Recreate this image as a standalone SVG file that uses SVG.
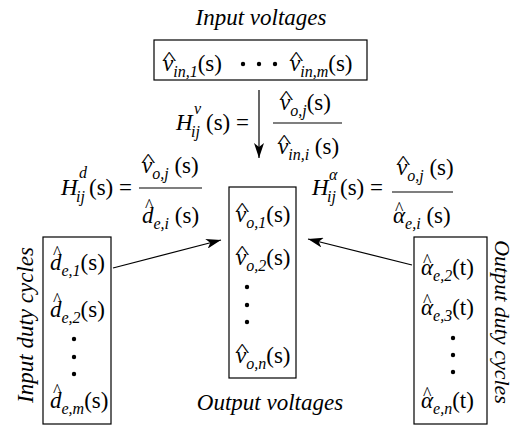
<svg xmlns="http://www.w3.org/2000/svg" width="513" height="428" viewBox="0 0 513 428" font-family="Liberation Serif, serif">
<defs>
<marker id="ah" markerUnits="userSpaceOnUse" markerWidth="16" markerHeight="10" refX="15" refY="5" orient="auto">
<path d="M0,0 L15,5 L0,10 L4,5 Z" fill="#000"/>
</marker>
</defs>

<g id="connectors" stroke="#000" stroke-width="1.2" fill="none">
<line x1="259" y1="90" x2="259" y2="158" marker-end="url(#ah)"/>
<line x1="113" y1="268" x2="221" y2="240" marker-end="url(#ah)"/>
<line x1="412" y1="265" x2="308" y2="239" marker-end="url(#ah)"/>
</g>

<g id="input-voltages" font-family="Liberation Serif, serif">
<text font-family="Liberation Serif, serif" font-size="23" x="261" y="25" text-anchor="middle"><tspan font-style="italic">Input voltages</tspan></text>
<rect x="154" y="40" width="213" height="40" fill="none" stroke="#000" stroke-width="1.2"/>
<text font-family="Liberation Serif, serif" font-size="18" transform="translate(162,65) scale(1.7,1)">^</text>
<text font-family="Liberation Serif, serif" font-size="23" x="163" y="71"><tspan font-style="italic">v</tspan><tspan font-style="italic" font-size="16" dy="6">in,1</tspan><tspan dy="-6">(s)</tspan></text>
<circle cx="243" cy="64" r="2.2"/><circle cx="259" cy="64" r="2.2"/><circle cx="275" cy="64" r="2.2"/>
<text font-family="Liberation Serif, serif" font-size="18" transform="translate(289,65) scale(1.7,1)">^</text>
<text font-family="Liberation Serif, serif" font-size="23" x="290" y="71"><tspan font-style="italic">v</tspan><tspan font-style="italic" font-size="16" dy="6">in,m</tspan><tspan dy="-6">(s)</tspan></text>
</g>

<g id="hv" font-family="Liberation Serif, serif">
<text font-family="Liberation Serif, serif" font-size="23" x="176" y="130"><tspan font-style="italic">H</tspan></text>
<text font-family="Liberation Serif, serif" font-size="16" x="194" y="114"><tspan font-style="italic">v</tspan></text>
<text font-family="Liberation Serif, serif" font-size="16" x="191" y="137"><tspan font-style="italic">ij</tspan></text>
<text font-family="Liberation Serif, serif" font-size="23" x="206" y="130">(s) =</text>
<text font-family="Liberation Serif, serif" font-size="18" transform="translate(279,104) scale(1.7,1)">^</text>
<text font-family="Liberation Serif, serif" font-size="23" x="280" y="110"><tspan font-style="italic">v</tspan><tspan font-style="italic" font-size="16" dy="6">o,j</tspan><tspan dy="-6">(s)</tspan></text>
<line x1="273" y1="123" x2="342" y2="123" stroke="#000" stroke-width="1.2"/>
<text font-family="Liberation Serif, serif" font-size="18" transform="translate(277,148) scale(1.7,1)">^</text>
<text font-family="Liberation Serif, serif" font-size="23" x="278" y="154"><tspan font-style="italic">v</tspan><tspan font-style="italic" font-size="16" dy="6">in,i</tspan><tspan dy="-6"> (s)</tspan></text>
</g>

<g id="hd" font-family="Liberation Serif, serif">
<text font-family="Liberation Serif, serif" font-size="23" x="61" y="195"><tspan font-style="italic">H</tspan></text>
<text font-family="Liberation Serif, serif" font-size="16" x="79" y="178"><tspan font-style="italic">d</tspan></text>
<text font-family="Liberation Serif, serif" font-size="16" x="76" y="202"><tspan font-style="italic">ij</tspan></text>
<text font-family="Liberation Serif, serif" font-size="23" x="89" y="195">(s) =</text>
<text font-family="Liberation Serif, serif" font-size="18" transform="translate(141,167) scale(1.7,1)">^</text>
<text font-family="Liberation Serif, serif" font-size="23" x="142" y="173"><tspan font-style="italic">v</tspan><tspan font-style="italic" font-size="16" dy="6">o,j</tspan><tspan dy="-6"> (s)</tspan></text>
<line x1="139" y1="188" x2="202" y2="188" stroke="#000" stroke-width="1.2"/>
<text font-family="Liberation Serif, serif" font-size="18" x="145" y="212">^</text>
<text font-family="Liberation Serif, serif" font-size="23" x="142" y="223"><tspan font-style="italic">d</tspan><tspan font-style="italic" font-size="16" dy="6">e,i</tspan><tspan dy="-6"> (s)</tspan></text>
</g>

<g id="ha" font-family="Liberation Serif, serif">
<text font-family="Liberation Serif, serif" font-size="23" x="312" y="195"><tspan font-style="italic">H</tspan></text>
<text font-family="Liberation Serif, serif" font-size="16" x="329" y="180"><tspan font-style="italic">α</tspan></text>
<text font-family="Liberation Serif, serif" font-size="16" x="327" y="202"><tspan font-style="italic">ij</tspan></text>
<text font-family="Liberation Serif, serif" font-size="23" x="340" y="195">(s) =</text>
<text font-family="Liberation Serif, serif" font-size="18" transform="translate(396,169) scale(1.7,1)">^</text>
<text font-family="Liberation Serif, serif" font-size="23" x="397" y="175"><tspan font-style="italic">v</tspan><tspan font-style="italic" font-size="16" dy="6">o,j</tspan><tspan dy="-6"> (s)</tspan></text>
<line x1="392" y1="192" x2="453" y2="192" stroke="#000" stroke-width="1.2"/>
<text font-family="Liberation Serif, serif" font-size="18" x="395" y="215">^</text>
<text font-family="Liberation Serif, serif" font-size="23" x="393" y="223"><tspan font-style="italic">α</tspan><tspan font-style="italic" font-size="16" dy="6">e,i</tspan><tspan dy="-6"> (s)</tspan></text>
</g>

<g id="output-voltages" font-family="Liberation Serif, serif">
<rect x="229" y="187" width="67" height="191" fill="none" stroke="#000" stroke-width="1.2"/>
<text font-family="Liberation Serif, serif" font-size="18" transform="translate(235,216) scale(1.7,1)">^</text>
<text font-family="Liberation Serif, serif" font-size="23" x="236" y="222"><tspan font-style="italic">v</tspan><tspan font-style="italic" font-size="16" dy="6">o,1</tspan><tspan dy="-6">(s)</tspan></text>
<text font-family="Liberation Serif, serif" font-size="18" transform="translate(235,259) scale(1.7,1)">^</text>
<text font-family="Liberation Serif, serif" font-size="23" x="236" y="265"><tspan font-style="italic">v</tspan><tspan font-style="italic" font-size="16" dy="6">o,2</tspan><tspan dy="-6">(s)</tspan></text>
<circle cx="247" cy="287" r="2.2"/><circle cx="247" cy="305" r="2.2"/><circle cx="247" cy="322" r="2.2"/>
<text font-family="Liberation Serif, serif" font-size="18" transform="translate(235,357) scale(1.7,1)">^</text>
<text font-family="Liberation Serif, serif" font-size="23" x="236" y="363"><tspan font-style="italic">v</tspan><tspan font-style="italic" font-size="16" dy="6">o,n</tspan><tspan dy="-6">(s)</tspan></text>
<text font-family="Liberation Serif, serif" font-size="23" x="270" y="410" text-anchor="middle"><tspan font-style="italic">Output voltages</tspan></text>
</g>

<g id="input-duty-cycles" font-family="Liberation Serif, serif">
<rect x="43" y="237" width="68" height="187" fill="none" stroke="#000" stroke-width="1.2"/>
<text font-family="Liberation Serif, serif" font-size="18" x="53" y="259">^</text>
<text font-family="Liberation Serif, serif" font-size="23" x="50" y="270"><tspan font-style="italic">d</tspan><tspan font-style="italic" font-size="16" dy="6">e,1</tspan><tspan dy="-6">(s)</tspan></text>
<text font-family="Liberation Serif, serif" font-size="18" x="53" y="306">^</text>
<text font-family="Liberation Serif, serif" font-size="23" x="50" y="317"><tspan font-style="italic">d</tspan><tspan font-style="italic" font-size="16" dy="6">e,2</tspan><tspan dy="-6">(s)</tspan></text>
<circle cx="74" cy="339" r="2.2"/><circle cx="74" cy="357" r="2.2"/><circle cx="74" cy="374" r="2.2"/>
<text font-family="Liberation Serif, serif" font-size="18" x="53" y="397">^</text>
<text font-family="Liberation Serif, serif" font-size="23" x="50" y="408"><tspan font-style="italic">d</tspan><tspan font-style="italic" font-size="16" dy="6">e,m</tspan><tspan dy="-6">(s)</tspan></text>
<text font-family="Liberation Serif, serif" font-size="23" transform="translate(33,325) rotate(-90)" text-anchor="middle"><tspan font-style="italic">Input duty cycles</tspan></text>
</g>

<g id="output-duty-cycles" font-family="Liberation Serif, serif">
<rect x="414" y="237" width="73" height="187" fill="none" stroke="#000" stroke-width="1.2"/>
<text font-family="Liberation Serif, serif" font-size="18" x="423" y="267">^</text>
<text font-family="Liberation Serif, serif" font-size="23" x="421" y="275"><tspan font-style="italic">α</tspan><tspan font-style="italic" font-size="16" dy="6">e,2</tspan><tspan dy="-6">(t)</tspan></text>
<text font-family="Liberation Serif, serif" font-size="18" x="423" y="307">^</text>
<text font-family="Liberation Serif, serif" font-size="23" x="421" y="315"><tspan font-style="italic">α</tspan><tspan font-style="italic" font-size="16" dy="6">e,3</tspan><tspan dy="-6">(t)</tspan></text>
<circle cx="453" cy="338" r="2.2"/><circle cx="453" cy="355" r="2.2"/><circle cx="453" cy="372" r="2.2"/>
<text font-family="Liberation Serif, serif" font-size="18" x="423" y="400">^</text>
<text font-family="Liberation Serif, serif" font-size="23" x="421" y="408"><tspan font-style="italic">α</tspan><tspan font-style="italic" font-size="16" dy="6">e,n</tspan><tspan dy="-6">(t)</tspan></text>
<text font-family="Liberation Serif, serif" font-size="22" transform="translate(495,322) rotate(90)" text-anchor="middle"><tspan font-style="italic">Output duty cycles</tspan></text>
</g>
</svg>
